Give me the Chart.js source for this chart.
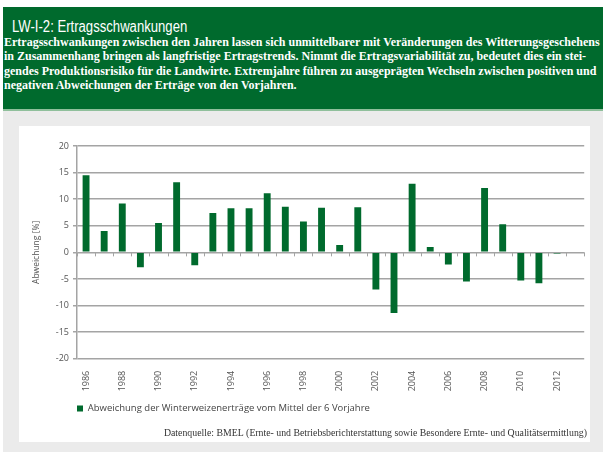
<!DOCTYPE html>
<html>
<head>
<meta charset="utf-8">
<script src="https://cdn.jsdelivr.net/npm/chart.js@4"></script>
<style>
  body { margin: 0; width: 603px; height: 452px; background: #ffffff; overflow: hidden; position: relative; }
  #kopf { position: absolute; left: 3px; top: 7px; width: 600px; height: 102px; background: #006a2d; border-bottom: 2px solid #8fbf9b; }
  #titre { position: absolute; left: 9px; top: 11px; color: #fff; font-family: "Liberation Sans", sans-serif; font-size: 16px; transform: scaleX(0.82); transform-origin: 0 0; white-space: nowrap; }
  #texte { position: absolute; left: 1px; top: 28px; color: #fff; font-family: "Liberation Serif", serif; font-weight: bold; font-size: 12px; line-height: 14.3px; white-space: nowrap; }
  #fond { position: absolute; left: 3px; top: 111px; width: 600px; height: 341px; background: #ebebeb; }
  #panneau { position: absolute; left: 19px; top: 126px; width: 571px; height: 316px; background: #fff; }
</style>
</head>
<body>
<div id="kopf">
  <div id="titre">LW-I-2: Ertragsschwankungen</div>
  <div id="texte">Ertragsschwankungen zwischen den Jahren lassen sich unmittelbarer mit Veränderungen des Witterungsgeschehens<br>in Zusammenhang bringen als langfristige Ertragstrends. Nimmt die Ertragsvariabilität zu, bedeutet dies ein stei-<br>gendes Produktionsrisiko für die Landwirte. Extremjahre führen zu ausgeprägten Wechseln zwischen positiven und<br>negativen Abweichungen der Erträge von den Vorjahren.</div>
</div>
<div id="fond"></div>
<div id="panneau"><canvas id="graph" width="571" height="316"></canvas></div>
<script>
// === DONNÉES ===
const annees = ["1986","1987","1988","1989","1990","1991","1992","1993","1994","1995","1996","1997","1998","1999",
  "2000","2001","2002","2003","2004","2005","2006","2007","2008","2009","2010","2011","2012","2013"];
const abweichung = [14.5, 4.0, 9.2, -2.8, 5.5, 13.2, -2.4, 7.4, 8.3, 8.3, 11.1, 8.6, 5.8, 8.4,
  1.4, 8.5, -7.0, -11.4, 12.9, 1.0, -2.3, -5.5, 12.1, 5.3, -5.3, -5.8, -0.2, null];
const yTicks = [-20, -15, -10, -5, 0, 5, 10, 15, 20];
const serieLabel = "Abweichung der Winterweizenerträge vom Mittel der 6 Vorjahre";
const quelle = "Datenquelle: BMEL (Ernte- und Betriebsberichterstattung sowie Besondere Ernte- und Qualitätsermittlung)";

const vert = "#006a2d";
const gris = "#a4a4a4";

// petits traits sur la ligne zéro, entre les barres
const traitsZero = {
  id: "traitsZero",
  afterDatasetsDraw(chart) {
    const x = chart.scales.x, y = chart.scales.y;
    const ctx = chart.ctx;
    const y0 = y.getPixelForValue(0);
    const demi = (x.getPixelForValue(1) - x.getPixelForValue(0)) / 2;
    ctx.save();
    ctx.strokeStyle = gris;
    ctx.lineWidth = 1;
    for (let i = 0; i <= annees.length; i++) {
      const px = Math.round(x.getPixelForValue(i) - demi) + 0.5;
      ctx.beginPath();
      ctx.moveTo(px, y0);
      ctx.lineTo(px, y0 + 4);
      ctx.stroke();
    }
    ctx.restore();
  }
};

new Chart(document.getElementById("graph"), {
  type: "bar",
  data: {
    labels: annees,
    datasets: [{
      label: serieLabel,
      data: abweichung,
      backgroundColor: vert,
      borderWidth: 0,
      barPercentage: 0.38,
      categoryPercentage: 1
    }]
  },
  options: {
    responsive: false,
    animation: false,
    layout: { padding: { left: 12, right: 3, top: 20, bottom: 3 } },
    scales: {
      x: {
        grid: { display: false },
        border: { display: false },
        afterFit(scale) { scale.height = 45; },
        ticks: {
          autoSkip: false,
          maxRotation: 90,
          minRotation: 90,
          padding: 4,
          color: "#555",
          font: { family: "Open Sans", size: 9 },
          callback: function (v, i) { return i % 2 === 0 && i < 27 ? annees[i] : ""; }
        }
      },
      y: {
        min: -20,
        max: 20,
        afterBuildTicks(scale) { scale.ticks = yTicks.map(v => ({ value: v })); },
        afterFit(scale) { scale.width = 46; },
        grid: { color: gris, lineWidth: 1.5, tickLength: 4 },
        border: { color: gris, width: 1.5 },
        ticks: { color: "#555", padding: 4, font: { family: "Open Sans", size: 9 } },
        title: { display: true, text: "Abweichung [%]", color: "#555", padding: 0, font: { family: "Open Sans", size: 8.5 } }
      }
    },
    plugins: {
      legend: {
        position: "bottom",
        align: "start",
        fullSize: false,
        labels: { boxWidth: 6, boxHeight: 6, color: "#444", padding: 0, font: { family: "Open Sans", size: 9.5 } }
      },
      title: {
        display: true,
        position: "bottom",
        align: "end",
        text: quelle,
        color: "#333",
        padding: { top: 4, bottom: 0 },
        font: { family: "Liberation Serif", size: 9.8, weight: "normal" }
      },
      tooltip: { enabled: false }
    }
  },
  plugins: [traitsZero]
});
</script>
</body>
</html>
